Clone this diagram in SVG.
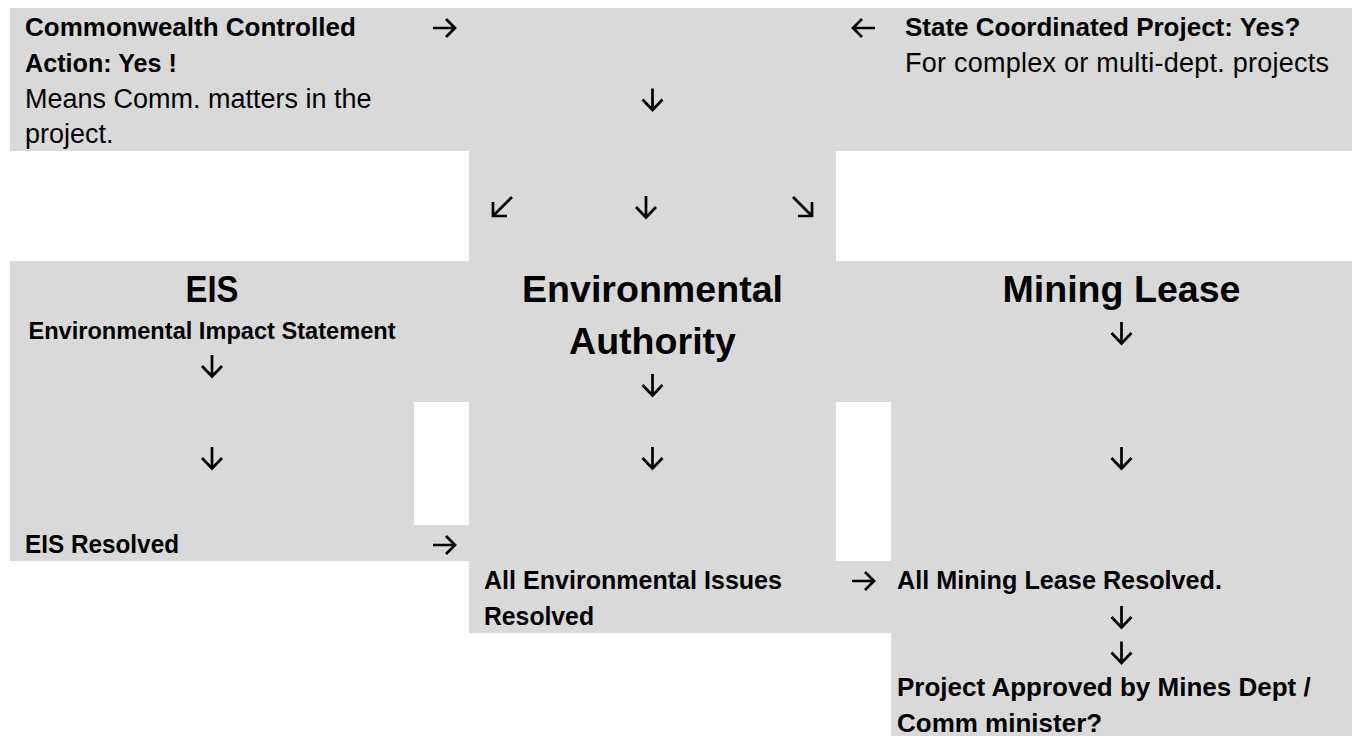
<svg xmlns="http://www.w3.org/2000/svg" width="1359" height="736" viewBox="0 0 1359 736">
<style>
.bg{fill:#d9d9d9;shape-rendering:crispEdges}
text{font-family:"Liberation Sans",Arial,sans-serif;fill:#000}
.b{font-weight:bold;font-size:26px}
.r{font-size:27px}
.h{font-weight:bold;font-size:37.6px;text-anchor:middle}
.s{font-weight:bold;font-size:23.6px;text-anchor:middle}
.arr{fill:none;stroke:#000;stroke-width:2.7;stroke-linejoin:miter;stroke-linecap:butt}
</style>
<defs>
<path id="aDown" class="arr" d="M0,-11 V10 M-10,0 L0,10.5 L10,0"/>
<path id="aRight" class="arr" d="M-11.5,0 H10.5 M1.5,-9 L10.5,0 L1.5,9"/>
<path id="aLeft" class="arr" d="M11.5,0 H-10.5 M-1.5,-9 L-10.5,0 L-1.5,9"/>
<path id="aDL" class="arr" d="M10,-10 L-9,9 M-9,-5 V9 H5"/>
<path id="aDR" class="arr" d="M-10,-10 L9,9 M9,-5 V9 H-5"/>
</defs>
<rect width="1359" height="736" fill="#fff"/>
<g id="table-shading">
<rect class="bg" x="10" y="8" width="1342" height="143"/>
<rect class="bg" x="469" y="151" width="367" height="110"/>
<rect class="bg" x="10" y="261" width="1342" height="141"/>
<rect class="bg" x="10" y="402" width="404" height="123"/>
<rect class="bg" x="469" y="402" width="367" height="159"/>
<rect class="bg" x="10" y="525" width="826" height="36"/>
<rect class="bg" x="891" y="402" width="461" height="334"/>
<rect class="bg" x="469" y="561" width="883" height="72"/>
</g>
<g id="commonwealth">
<text class="b" x="25" y="36">Commonwealth Controlled</text>
<text class="b" x="25" y="72" textLength="152" lengthAdjust="spacingAndGlyphs">Action: Yes !</text>
<text class="r" x="25" y="107.5">Means Comm. matters in the</text>
<text class="r" x="25" y="143">project.</text>
</g>
<g id="state-coordinated">
<text class="b" x="905" y="36">State Coordinated Project: Yes?</text>
<text class="r" x="905" y="72" textLength="424" lengthAdjust="spacing">For complex or multi-dept. projects</text>
</g>
<g id="eis">
<text class="h" x="212" y="302" textLength="53" lengthAdjust="spacingAndGlyphs">EIS</text>
<text class="s" x="212" y="338.5">Environmental Impact Statement</text>
</g>
<g id="env-authority">
<text class="h" x="652.5" y="302">Environmental</text>
<text class="h" x="652.5" y="354">Authority</text>
</g>
<g id="mining-lease">
<text class="h" x="1121.5" y="302">Mining Lease</text>
</g>
<g id="eis-resolved">
<text class="b" x="25" y="553" textLength="154" lengthAdjust="spacingAndGlyphs">EIS Resolved</text>
</g>
<g id="env-resolved">
<text class="b" x="484" y="589" textLength="298" lengthAdjust="spacingAndGlyphs">All Environmental Issues</text>
<text class="b" x="484" y="625" textLength="110" lengthAdjust="spacingAndGlyphs">Resolved</text>
</g>
<g id="mining-resolved">
<text class="b" x="897" y="589" textLength="325" lengthAdjust="spacingAndGlyphs">All Mining Lease Resolved.</text>
</g>
<g id="project-approved">
<text class="b" x="897" y="696">Project Approved by Mines Dept /</text>
<text class="b" x="897" y="732">Comm minister?</text>
</g>
<g id="connectors">
<use href="#aRight" x="444.5" y="28"/>
<use href="#aLeft" x="863.5" y="28"/>
<use href="#aDown" x="652.5" y="99.5"/>
<use href="#aDL" x="502" y="207"/>
<use href="#aDown" x="646" y="207"/>
<use href="#aDR" x="803" y="207"/>
<use href="#aDown" x="212" y="366"/>
<use href="#aDown" x="652.5" y="385"/>
<use href="#aDown" x="1121.5" y="333"/>
<use href="#aDown" x="212" y="458"/>
<use href="#aDown" x="652.5" y="458"/>
<use href="#aDown" x="1121.5" y="458"/>
<use href="#aRight" x="444.5" y="545"/>
<use href="#aRight" x="863.5" y="581"/>
<use href="#aDown" x="1121.5" y="617"/>
<use href="#aDown" x="1121.5" y="652.5"/>
</g>
</svg>
